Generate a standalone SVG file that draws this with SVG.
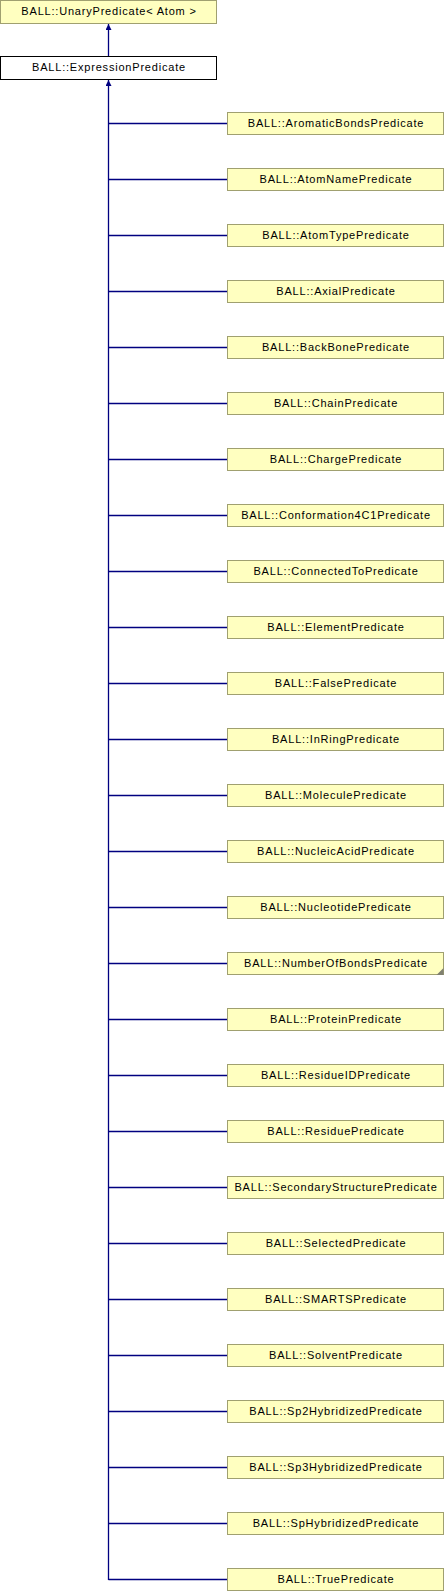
<svg xmlns="http://www.w3.org/2000/svg" width="444" height="1592" viewBox="0 0 444 1592">
<style>
.n rect{fill:#ffffc0;stroke:#a0a070;stroke-width:1}
.w rect{fill:#ffffff;stroke:#000000;stroke-width:1}
text{font-family:"Liberation Sans",Arial,sans-serif;font-size:11px;letter-spacing:0.8px;fill:#000;text-anchor:middle}
.c{stroke:#000080;stroke-width:1.3;fill:none}
</style>
<defs>
<marker id="ah" viewBox="0 0 6 6" refX="6" refY="3" markerWidth="6" markerHeight="6" markerUnits="userSpaceOnUse" orient="auto">
<path d="M0,0 L6,3 L0,6 z" fill="#000080"/>
</marker>
</defs>
<g id="connectors">
<line class="c" x1="108.5" y1="56" x2="108.5" y2="24" marker-end="url(#ah)"/>
<line class="c" x1="108.5" y1="1580" x2="108.5" y2="80" marker-end="url(#ah)"/>
<path class="c" d="M108.5,123.5H227M108.5,179.5H227M108.5,235.5H227M108.5,291.5H227M108.5,347.5H227M108.5,403.5H227M108.5,459.5H227M108.5,515.5H227M108.5,571.5H227M108.5,627.5H227M108.5,683.5H227M108.5,739.5H227M108.5,795.5H227M108.5,851.5H227M108.5,907.5H227M108.5,963.5H227M108.5,1019.5H227M108.5,1075.5H227M108.5,1131.5H227M108.5,1187.5H227M108.5,1243.5H227M108.5,1299.5H227M108.5,1355.5H227M108.5,1411.5H227M108.5,1467.5H227M108.5,1523.5H227M108.5,1579.5H227"/>
</g>
<g id="UnaryPredicate" class="n"><rect x="0.5" y="0.5" width="216" height="23"/><text x="109" y="15">BALL::UnaryPredicate&lt; Atom &gt;</text></g>
<g id="ExpressionPredicate" class="w"><rect x="0.5" y="56.5" width="216" height="23"/><text x="109" y="71">BALL::ExpressionPredicate</text></g>
<g id="AromaticBondsPredicate" class="n"><rect x="227.5" y="112.5" width="216" height="22"/><text x="336" y="127">BALL::AromaticBondsPredicate</text></g>
<g id="AtomNamePredicate" class="n"><rect x="227.5" y="168.5" width="216" height="22"/><text x="336" y="183">BALL::AtomNamePredicate</text></g>
<g id="AtomTypePredicate" class="n"><rect x="227.5" y="224.5" width="216" height="22"/><text x="336" y="239">BALL::AtomTypePredicate</text></g>
<g id="AxialPredicate" class="n"><rect x="227.5" y="280.5" width="216" height="22"/><text x="336" y="295">BALL::AxialPredicate</text></g>
<g id="BackBonePredicate" class="n"><rect x="227.5" y="336.5" width="216" height="22"/><text x="336" y="351">BALL::BackBonePredicate</text></g>
<g id="ChainPredicate" class="n"><rect x="227.5" y="392.5" width="216" height="22"/><text x="336" y="407">BALL::ChainPredicate</text></g>
<g id="ChargePredicate" class="n"><rect x="227.5" y="448.5" width="216" height="22"/><text x="336" y="463">BALL::ChargePredicate</text></g>
<g id="Conformation4C1Predicate" class="n"><rect x="227.5" y="504.5" width="216" height="22"/><text x="336" y="519">BALL::Conformation4C1Predicate</text></g>
<g id="ConnectedToPredicate" class="n"><rect x="227.5" y="560.5" width="216" height="22"/><text x="336" y="575">BALL::ConnectedToPredicate</text></g>
<g id="ElementPredicate" class="n"><rect x="227.5" y="616.5" width="216" height="22"/><text x="336" y="631">BALL::ElementPredicate</text></g>
<g id="FalsePredicate" class="n"><rect x="227.5" y="672.5" width="216" height="22"/><text x="336" y="687">BALL::FalsePredicate</text></g>
<g id="InRingPredicate" class="n"><rect x="227.5" y="728.5" width="216" height="22"/><text x="336" y="743">BALL::InRingPredicate</text></g>
<g id="MoleculePredicate" class="n"><rect x="227.5" y="784.5" width="216" height="22"/><text x="336" y="799">BALL::MoleculePredicate</text></g>
<g id="NucleicAcidPredicate" class="n"><rect x="227.5" y="840.5" width="216" height="22"/><text x="336" y="855">BALL::NucleicAcidPredicate</text></g>
<g id="NucleotidePredicate" class="n"><rect x="227.5" y="896.5" width="216" height="22"/><text x="336" y="911">BALL::NucleotidePredicate</text></g>
<g id="NumberOfBondsPredicate" class="n"><rect x="227.5" y="952.5" width="216" height="22"/><path d="M443.5,968 L443.5,975 L436.5,975 z" fill="#808070"/><text x="336" y="967">BALL::NumberOfBondsPredicate</text></g>
<g id="ProteinPredicate" class="n"><rect x="227.5" y="1008.5" width="216" height="22"/><text x="336" y="1023">BALL::ProteinPredicate</text></g>
<g id="ResidueIDPredicate" class="n"><rect x="227.5" y="1064.5" width="216" height="22"/><text x="336" y="1079">BALL::ResidueIDPredicate</text></g>
<g id="ResiduePredicate" class="n"><rect x="227.5" y="1120.5" width="216" height="22"/><text x="336" y="1135">BALL::ResiduePredicate</text></g>
<g id="SecondaryStructurePredicate" class="n"><rect x="227.5" y="1176.5" width="216" height="22"/><text x="336" y="1191">BALL::SecondaryStructurePredicate</text></g>
<g id="SelectedPredicate" class="n"><rect x="227.5" y="1232.5" width="216" height="22"/><text x="336" y="1247">BALL::SelectedPredicate</text></g>
<g id="SMARTSPredicate" class="n"><rect x="227.5" y="1288.5" width="216" height="22"/><text x="336" y="1303">BALL::SMARTSPredicate</text></g>
<g id="SolventPredicate" class="n"><rect x="227.5" y="1344.5" width="216" height="22"/><text x="336" y="1359">BALL::SolventPredicate</text></g>
<g id="Sp2HybridizedPredicate" class="n"><rect x="227.5" y="1400.5" width="216" height="22"/><text x="336" y="1415">BALL::Sp2HybridizedPredicate</text></g>
<g id="Sp3HybridizedPredicate" class="n"><rect x="227.5" y="1456.5" width="216" height="22"/><text x="336" y="1471">BALL::Sp3HybridizedPredicate</text></g>
<g id="SpHybridizedPredicate" class="n"><rect x="227.5" y="1512.5" width="216" height="22"/><text x="336" y="1527">BALL::SpHybridizedPredicate</text></g>
<g id="TruePredicate" class="n"><rect x="227.5" y="1568.5" width="216" height="22"/><text x="336" y="1583">BALL::TruePredicate</text></g>
</svg>
